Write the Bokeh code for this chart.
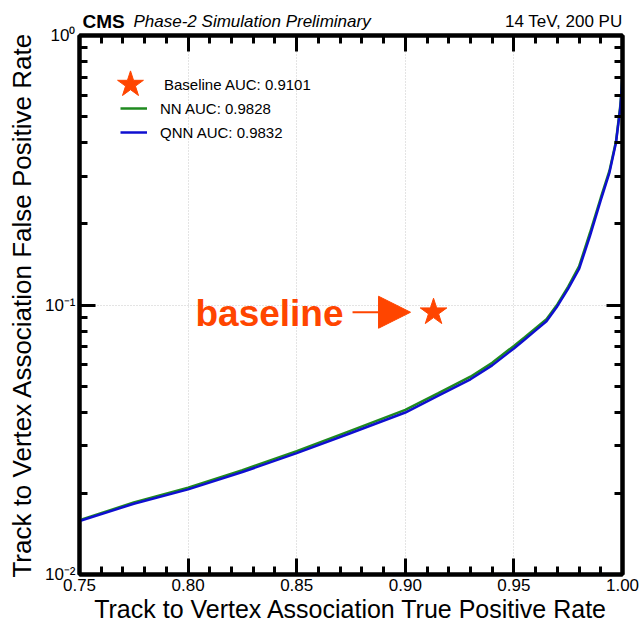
from bokeh.plotting import figure
from bokeh.models import (LinearAxis, LogAxis, FixedTicker,
                          NumeralTickFormatter, CustomJSTickFormatter, Range1d, Label,
                          Arrow, NormalHead, Legend, LegendItem)
from bokeh.core.properties import value
from bokeh.embed import file_html
from bokeh.resources import INLINE

# ---------------- data ----------------
tpr = [0.75, 0.775, 0.80, 0.825, 0.85, 0.875, 0.90, 0.915, 0.93, 0.94, 0.95, 0.955,
       0.96, 0.965, 0.97, 0.975, 0.98, 0.985, 0.99, 0.994, 0.997, 0.999, 1.0]
fpr_nn = [0.0159, 0.0185, 0.0210, 0.0244, 0.0287, 0.0342, 0.0408, 0.0470, 0.0542, 0.0610,
          0.0705, 0.0760, 0.0820, 0.0885, 0.1005, 0.1170, 0.1390, 0.1850, 0.2500, 0.3150,
          0.4050, 0.5500, 0.7000]
fpr_qnn = [0.0158, 0.0183, 0.0207, 0.0240, 0.0282, 0.0335, 0.0399, 0.0460, 0.0530, 0.0597,
           0.0690, 0.0745, 0.0805, 0.0870, 0.0990, 0.1150, 0.1360, 0.1800, 0.2450, 0.3100,
           0.4000, 0.5400, 0.7000]
baseline_tpr = [0.913]
baseline_fpr = [0.094]
labels = ["Baseline AUC: 0.9101", "NN AUC: 0.9828", "QNN AUC: 0.9832"]
header_left = ["CMS", "Phase-2 Simulation Preliminary"]
header_right = ["14 TeV, 200 PU"]
x_major = [0.75, 0.80, 0.85, 0.90, 0.95, 1.00]
y_major = [0.01, 0.1, 1.0]
y_minor = [0.02, 0.03, 0.04, 0.05, 0.06, 0.07, 0.08, 0.09,
           0.2, 0.3, 0.4, 0.5, 0.6, 0.7, 0.8, 0.9]

ORANGE = "#FF4500"
GREEN = "#1f8a1f"
BLUE = "#0f0fd0"
FONT = "Liberation Sans"

W, H = 643, 630
ML, MR, MT, MB = 79, 21, 35, 56

p = figure(width=W, height=H, x_range=Range1d(0.75, 1.0), y_range=Range1d(0.01, 1.0),
           y_axis_type="log", output_backend="svg", toolbar_location=None,
           min_border_left=ML, min_border_right=MR, min_border_top=MT, min_border_bottom=MB,
           background_fill_color="white", border_fill_color="white")
p.outline_line_color = "black"
p.outline_line_width = 4

xticker = FixedTicker(ticks=x_major,
                      minor_ticks=[round(0.75 + 0.01 * i, 2) for i in range(26)])
yticker = FixedTicker(ticks=y_major, minor_ticks=y_minor)

yfmt = CustomJSTickFormatter(code="""
const e = Math.round(Math.log10(tick));
const m = {"-": "\\u207b", "0": "\\u2070", "1": "\\u00b9", "2": "\\u00b2", "3": "\\u00b3"};
return "10" + String(e).split("").map(c => m[c]).join("");
""")
blank = CustomJSTickFormatter(code="return ' ';")


def style(ax):
    ax.axis_line_width = 4
    ax.axis_line_color = "black"
    ax.major_tick_in = 16
    ax.major_tick_out = 0
    ax.minor_tick_in = 8
    ax.minor_tick_out = 0
    ax.major_tick_line_width = 3
    ax.minor_tick_line_width = 3
    ax.major_tick_line_color = "black"
    ax.minor_tick_line_color = "black"
    ax.major_label_text_font = FONT
    ax.major_label_text_color = "black"
    ax.major_label_standoff = 4
    ax.major_label_text_font_size = "17px"


xa = p.xaxis[0]
xa.ticker = xticker
xa.formatter = NumeralTickFormatter(format="0.00")
style(xa)
xa.axis_label = "Track to Vertex Association True Positive Rate"
xa.axis_label_text_font = FONT
xa.axis_label_text_font_size = "25px"
xa.axis_label_text_font_style = "normal"
xa.axis_label_text_color = "black"
xa.axis_label_standoff = 1

ya = p.yaxis[0]
ya.ticker = yticker
ya.formatter = yfmt
style(ya)
ya.axis_label = "Track to Vertex Association False Positive Rate"
ya.axis_label_text_font = FONT
ya.axis_label_text_font_size = "26px"
ya.axis_label_text_font_style = "normal"
ya.axis_label_text_color = "black"
ya.axis_label_standoff = 5

top_ax = LinearAxis(ticker=xticker, formatter=blank)
style(top_ax)
top_ax.major_label_standoff = 0
p.add_layout(top_ax, "above")
right_ax = LogAxis(ticker=yticker, formatter=blank)
style(right_ax)
right_ax.major_label_standoff = 0
p.add_layout(right_ax, "right")

p.xgrid.ticker = FixedTicker(ticks=x_major)
p.ygrid.ticker = FixedTicker(ticks=y_major)
for g in (p.xgrid[0], p.ygrid[0]):
    g.grid_line_color = "#c8c8c8"
    g.grid_line_dash = "1 2"
    g.grid_line_width = 1

# ---------------- curves ----------------
r_nn = p.line(tpr, fpr_nn, line_color=GREEN, line_width=2.5)
r_qnn = p.line(tpr, fpr_qnn, line_color=BLUE, line_width=2.5)
r_base = p.scatter(baseline_tpr, baseline_fpr, marker="star", size=28,
                   fill_color=ORANGE, line_color=ORANGE)

# ---------------- legends ----------------
leg1 = Legend(items=[LegendItem(label=labels[0], renderers=[r_base])],
              location=(17, 456), glyph_width=68, glyph_height=68, label_standoff=0,
              padding=0, margin=0, border_line_color=None, background_fill_alpha=0,
              label_text_font=FONT, label_text_font_size="15px", label_text_color="black")
leg2 = Legend(items=[LegendItem(label=labels[1], renderers=[r_nn]),
                     LegendItem(label=labels[2], renderers=[r_qnn])],
              location=(41, 432), glyph_width=27, glyph_height=20, label_height=20,
              spacing=4, label_standoff=13,
              padding=0, margin=0, border_line_color=None, background_fill_alpha=0,
              label_text_font=FONT, label_text_font_size="15px", label_text_color="black")
p.add_layout(leg1)
p.add_layout(leg2)

# ---------------- header (above the frame, drawn at overlay level) ----------------
x0, x1 = p.x_range.start, p.x_range.end
ytop = p.y_range.end
p.text(x=[x0], y=[ytop], text=[header_left[0]], x_offset=3, y_offset=-14,
       text_font=value(FONT), text_font_style="bold", text_font_size="19px",
       text_color="black", text_baseline="alphabetic", text_align="left", level="overlay")
p.text(x=[x0], y=[ytop], text=[header_left[1]], x_offset=54, y_offset=-14,
       text_font=value(FONT), text_font_style="italic", text_font_size="17px",
       text_color="black", text_baseline="alphabetic", text_align="left", level="overlay")
p.text(x=[x1], y=[ytop], text=header_right, x_offset=0, y_offset=-14,
       text_font=value(FONT), text_font_size="17px",
       text_color="black", text_baseline="alphabetic", text_align="right", level="overlay")

# ---------------- baseline annotation ----------------
px_per_x = (W - ML - MR) / 0.25
bx, by = baseline_tpr[0], baseline_fpr[0]
p.add_layout(Label(x=bx, y=by, x_offset=-90, y_offset=-1, text="baseline",
                   text_font=FONT, text_font_style="bold", text_font_size="37px",
                   text_color=ORANGE, text_align="right", text_baseline="middle"))
p.add_layout(Arrow(end=NormalHead(size=32, fill_color=ORANGE, line_color=ORANGE),
                   x_start=bx - 81 / px_per_x, y_start=by,
                   x_end=bx - 23 / px_per_x, y_end=by,
                   line_color=ORANGE, line_width=2))

open("out.html", "w").write(file_html(p, INLINE))
